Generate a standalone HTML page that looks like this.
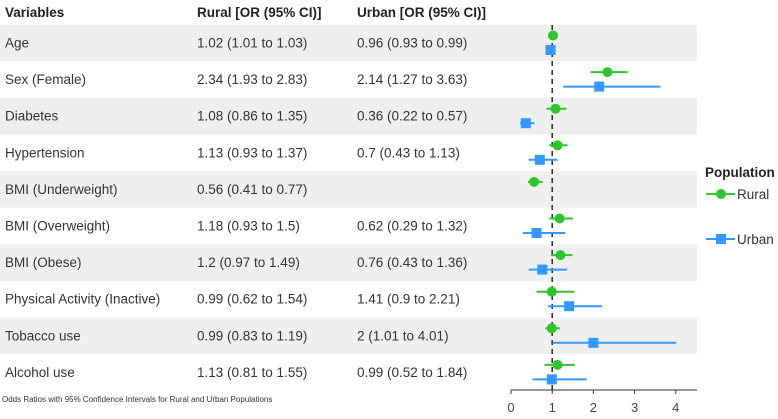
<!DOCTYPE html>
<html><head><meta charset="utf-8"><style>
body{margin:0;background:#fff;font-family:"Liberation Sans",Arial,sans-serif}
svg text{font-family:"Liberation Sans",Arial,sans-serif}
</style></head><body>
<svg id="c" width="778" height="414" viewBox="0 0 778 414" xmlns="http://www.w3.org/2000/svg"></svg>
<script>
const variables=["Age","Sex (Female)","Diabetes","Hypertension","BMI (Underweight)","BMI (Overweight)","BMI (Obese)","Physical Activity (Inactive)","Tobacco use","Alcohol use"];
const ruralOR=[1.02,2.34,1.08,1.13,0.56,1.18,1.2,0.99,0.99,1.13];
const ruralLo=[1.01,1.93,0.86,0.93,0.41,0.93,0.97,0.62,0.83,0.81];
const ruralHi=[1.03,2.83,1.35,1.37,0.77,1.5,1.49,1.54,1.19,1.55];
const urbanOR=[0.96,2.14,0.36,0.7,null,0.62,0.76,1.41,2,0.99];
const urbanLo=[0.93,1.27,0.22,0.43,null,0.29,0.43,0.9,1.01,0.52];
const urbanHi=[0.99,3.63,0.57,1.13,null,1.32,1.36,2.21,4.01,1.84];
const ticks=[0,1,2,3,4];
const NS="http://www.w3.org/2000/svg";
const svg=document.getElementById('c');
const x=v=>511+v*41.2;
const rowY=i=>43+i*36.6;
function mk(t,a,txt){const e=document.createElementNS(NS,t);for(const k in a)e.setAttribute(k,a[k]);if(txt!==undefined)e.textContent=txt;svg.appendChild(e);return e;}
const G="#2fc52f",B="#3399ff";
variables.forEach((v,i)=>{
 if(i%2===0){const r=mk('rect',{x:0,y:rowY(i)-18.3,width:697,height:36.6,fill:'#efefef'});
 
 }
});
const hdr=[["Variables",5],["Rural [OR (95% CI)]",197],["Urban [OR (95% CI)]",357]];
hdr.forEach(h=>{const t=mk('text',{x:h[1],y:17,'font-size':13.5,'font-weight':'bold',fill:'#222'},h[0]);
 
 });
const fmt=(o,l,h)=>o==null?"":`${o} (${l} to ${h})`;
variables.forEach((v,i)=>{
 const y=rowY(i)+4.5;
 let t=mk('text',{x:5,y:y,'font-size':13.5,fill:'#333'},v);
 
 
 t=mk('text',{x:197,y:y,'font-size':13.5,fill:'#333'},fmt(ruralOR[i],ruralLo[i],ruralHi[i]));
 
 
 t=mk('text',{x:357,y:y,'font-size':13.5,fill:'#333'},fmt(urbanOR[i],urbanLo[i],urbanHi[i]));
 
 
});
const ref=mk('line',{x1:x(1),x2:x(1),y1:25,y2:390,stroke:'#333','stroke-width':1.6,'stroke-dasharray':'5,4'});


variables.forEach((v,i)=>{
 const yr=rowY(i)-7.5;
 let l=mk('line',{x1:x(ruralLo[i]),x2:x(ruralHi[i]),y1:yr,y2:yr,stroke:G,'stroke-width':2});
 
 
 let p=mk('circle',{cx:x(ruralOR[i]),cy:yr,r:5,fill:G});
 
 
 if(urbanOR[i]!=null){
  const yu=rowY(i)+7;
  l=mk('line',{x1:x(urbanLo[i]),x2:x(urbanHi[i]),y1:yu,y2:yu,stroke:B,'stroke-width':2});
  
  
  p=mk('rect',{x:x(urbanOR[i])-5,y:yu-5,width:10,height:10,fill:B});
  
  
 }
});
const ax=mk('line',{x1:x(0),x2:697,y1:390,y2:390,stroke:'#333','stroke-width':1});


ticks.forEach(t=>{
 const k=mk('line',{x1:x(t),x2:x(t),y1:390,y2:394,stroke:'#333'});
 
 
 const l=mk('text',{x:x(t),y:412,'font-size':13,'text-anchor':'middle',fill:'#444'},t);
 
 
});
let c=mk('text',{x:2,y:402,'font-size':8,fill:'#333'},"Odds Ratios with 95% Confidence Intervals for Rural and Urban Populations");


let lt=mk('text',{x:705,y:177,'font-size':13.5,'font-weight':'bold',fill:'#222'},"Population");


[["Rural",G,194,'c'],["Urban",B,239,'s']].forEach(e=>{
 const l=mk('line',{x1:706,x2:735,y1:e[2],y2:e[2],stroke:e[1],'stroke-width':2});
 
 
 const m=e[3]=='c'?mk('circle',{cx:721,cy:e[2],r:5,fill:e[1]}):mk('rect',{x:716,y:e[2]-5,width:10,height:10,fill:e[1]});
 
 
 const t=mk('text',{x:737,y:e[2]+5,'font-size':13.5,fill:'#333'},e[0]);
 
 
});
</script>
</body></html>
